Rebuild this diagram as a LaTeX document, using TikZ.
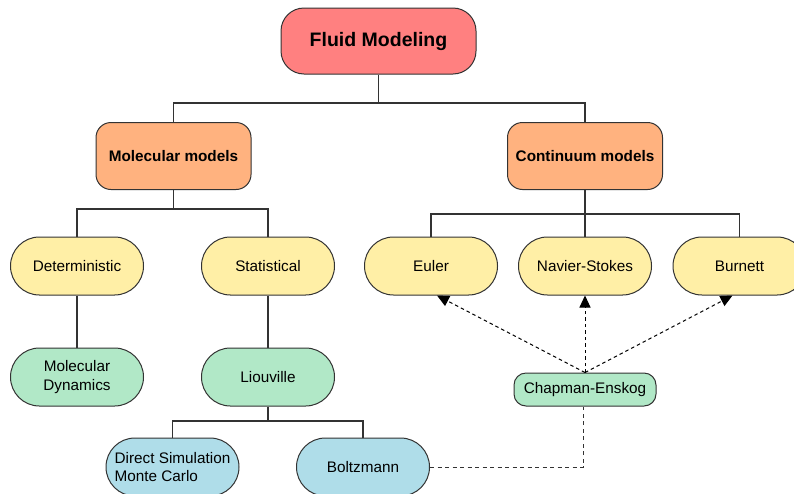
\documentclass[tikz,border=0pt]{standalone}
\usepackage{fontspec}
\setmainfont{Liberation Sans}
\usetikzlibrary{arrows.meta,calc}

\definecolor{rootfill}{HTML}{FF8080}
\definecolor{catfill}{HTML}{FFB27F}
\definecolor{modfill}{HTML}{FFEFA6}
\definecolor{eqfill}{HTML}{B1E8C7}
\definecolor{simfill}{HTML}{AFDDE9}
\definecolor{edgegray}{HTML}{333333}

\tikzset{
  box/.style={draw=edgegray, line width=1pt, inner sep=0pt, align=center,
    font=\fontsize{15.3}{18.5}\selectfont},
  root/.style={box, fill=rootfill, minimum width=195pt, minimum height=66pt,
    rounded corners=23pt, font=\fontsize{19.5}{22}\selectfont\bfseries},
  category/.style={box, fill=catfill, minimum width=155pt, minimum height=67pt,
    rounded corners=15pt, font=\fontsize{15.3}{18}\selectfont\bfseries},
  pill/.style={box, minimum width=133pt, minimum height=58pt, rounded corners=28.9pt},
  modelbox/.style={pill, fill=modfill},
  eqbox/.style={pill, fill=eqfill},
  simbox/.style={pill, fill=simfill},
  smallbox/.style={box, fill=eqfill, minimum width=142pt, minimum height=33pt,
    rounded corners=12pt},
  tree/.style={draw=edgegray, line width=1.1pt},
  derive/.style={draw=black, line width=1pt, dash pattern=on 3.5pt off 3pt,
    -{Triangle[length=12pt,width=11pt]}},
  link/.style={draw=edgegray, line width=1pt, dash pattern=on 4pt off 3.5pt},
}

\begin{document}
\begin{tikzpicture}[x=1pt,y=-1pt]
  \useasboundingbox (0,0) rectangle (794,493);

  % root and the two model families
  \node[root]     (fluid) at (378.5,41)  {Fluid Modeling};
  \node[category] (mol)   at (173.5,156) {Molecular models};
  \node[category] (cont)  at (585,156)   {Continuum models};

  % molecular branch
  \node[modelbox] (det)   at (77,266)  {Deterministic};
  \node[modelbox] (stat)  at (268,266) {Statistical};
  \node[eqbox]    (md)    at (77,377)  {Molecular\\Dynamics};
  \node[eqbox]    (liou)  at (268,377) {Liouville};
  \node[simbox, align=left] (dsmc) at (172.5,467) {Direct Simulation\\Monte Carlo};
  \node[simbox]   (boltz) at (363,467) {Boltzmann};

  % continuum branch
  \node[modelbox] (euler) at (431,266) {Euler};
  \node[modelbox] (ns)    at (585,266) {Navier-Stokes};
  \node[modelbox] (burn)  at (739.5,266) {Burnett};
  \node[smallbox] (ce)    at (585,389.5) {Chapman-Enskog};

  % tree junctions
  \coordinate (j0) at (378.5,103);
  \coordinate (j1) at (173.5,209);
  \coordinate (j2) at (585,214);
  \coordinate (j3) at (268,421);

  \draw[tree] (fluid.south) -- (j0) -| (mol.north);
  \draw[tree] (j0) -| (cont.north);

  \draw[tree] (mol.south) -- (j1) -| (det.north);
  \draw[tree] (j1) -| (stat.north);
  \draw[tree] (det.south) -- (md.north);
  \draw[tree] (stat.south) -- (liou.north);
  \draw[tree] (liou.south) -- (j3) -| (dsmc.north);
  \draw[tree] (j3) -| (boltz.north);

  \draw[tree] (cont.south) -- (j2) -| (euler.north);
  \draw[tree] (j2) -- (ns.north);
  \draw[tree] (j2) -| (burn.north);

  % Chapman-Enskog expansion yields the continuum equations
  \draw[derive] (ce.north) -- ([xshift=6pt]euler.south);
  \draw[derive] (ce.north) -- (ns.south);
  \draw[derive] (ce.north) -- ([xshift=-7pt]burn.south);
  \draw[link] (boltz.east) -| ([xshift=-2pt]ce.south);
\end{tikzpicture}
\end{document}
